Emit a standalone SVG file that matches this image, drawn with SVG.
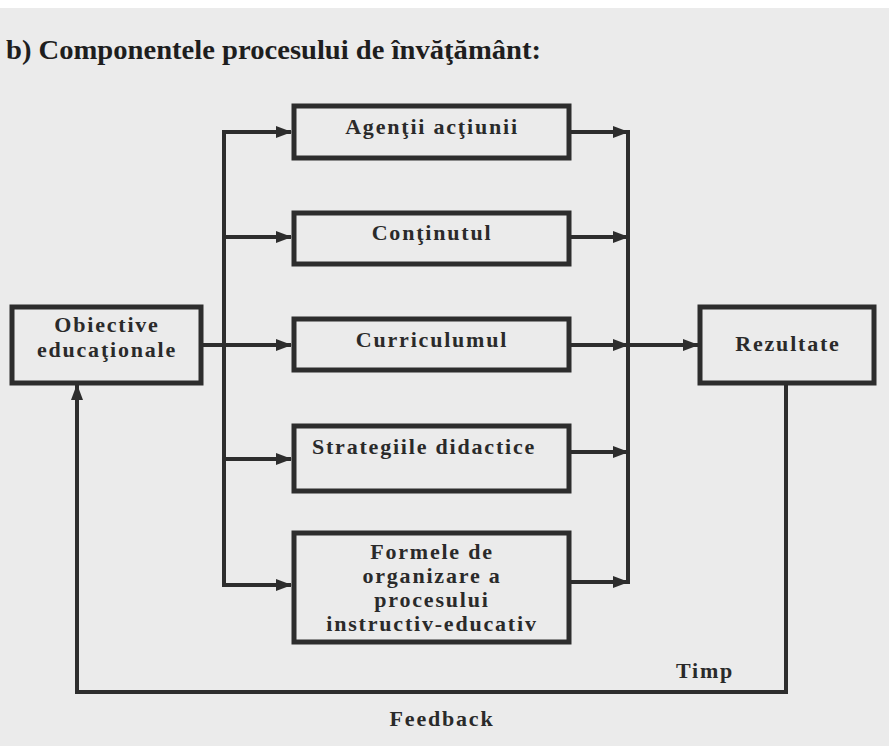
<svg xmlns="http://www.w3.org/2000/svg" width="889" height="746" viewBox="0 0 889 746">
<style>
  .box { fill: none; stroke: #2d2d2d; stroke-width: 5; }
  .lbl { font-family: "Liberation Serif", "Times New Roman", serif; font-weight: bold; font-size: 22px; letter-spacing: 1.8px; fill: #2a2a2a; text-anchor: middle; }
  .title { font-family: "Liberation Serif", "Times New Roman", serif; font-weight: bold; font-size: 27px; fill: #1e1e1e; }
  .ln { fill: none; stroke: #2d2d2d; stroke-width: 4; }
</style>
<defs>
  <marker id="ah" markerUnits="userSpaceOnUse" markerWidth="16" markerHeight="12" refX="15" refY="6" orient="auto">
    <path d="M0,0 L16,6 L0,12 Z" fill="#2d2d2d"/>
  </marker>
</defs>
<rect x="0" y="0" width="889" height="746" fill="#ebebeb"/>
<rect x="0" y="0" width="889" height="8" fill="#ffffff"/>
<text class="title" x="6" y="59" textLength="535" lengthAdjust="spacingAndGlyphs">b) Componentele procesului de învăţământ:</text>

<g id="connectors">
  <line class="ln" x1="224" y1="130" x2="224" y2="587"/>
  <line class="ln" x1="628" y1="130" x2="628" y2="584"/>
  <line class="ln" x1="202" y1="345" x2="291" y2="345" marker-end="url(#ah)"/>
  <line class="ln" x1="222" y1="132" x2="291" y2="132" marker-end="url(#ah)"/>
  <line class="ln" x1="222" y1="237" x2="291" y2="237" marker-end="url(#ah)"/>
  <line class="ln" x1="222" y1="459" x2="291" y2="459" marker-end="url(#ah)"/>
  <line class="ln" x1="222" y1="585" x2="291" y2="585" marker-end="url(#ah)"/>
  <line class="ln" x1="571" y1="132" x2="628" y2="132" marker-end="url(#ah)"/>
  <line class="ln" x1="571" y1="237" x2="628" y2="237" marker-end="url(#ah)"/>
  <line class="ln" x1="571" y1="345" x2="628" y2="345" marker-end="url(#ah)"/>
  <line class="ln" x1="571" y1="452" x2="628" y2="452" marker-end="url(#ah)"/>
  <line class="ln" x1="571" y1="582" x2="628" y2="582" marker-end="url(#ah)"/>
  <line class="ln" x1="628" y1="345" x2="698" y2="345" marker-end="url(#ah)"/>
  <path class="ln" d="M786,385 L786,692 L77,692 L77,385" marker-end="url(#ah)"/>
  <text class="lbl" x="705" y="678">Timp</text>
  <text class="lbl" x="442" y="726">Feedback</text>
</g>

<g id="obiective">
  <rect class="box" x="12" y="307" width="189" height="76"/>
  <text class="lbl" x="107" y="332">Obiective</text>
  <text class="lbl" x="107" y="357">educaţionale</text>
</g>
<g id="agentii">
  <rect class="box" x="294" y="106" width="275" height="52"/>
  <text class="lbl" x="432" y="134">Agenţii acţiunii</text>
</g>
<g id="continutul">
  <rect class="box" x="294" y="213" width="275" height="51"/>
  <text class="lbl" x="432" y="240">Conţinutul</text>
</g>
<g id="curriculumul">
  <rect class="box" x="294" y="319" width="275" height="51"/>
  <text class="lbl" x="432" y="347">Curriculumul</text>
</g>
<g id="strategiile">
  <rect class="box" x="294" y="426" width="275" height="65"/>
  <text class="lbl" x="424" y="454">Strategiile didactice</text>
</g>
<g id="formele">
  <rect class="box" x="294" y="533" width="275" height="109"/>
  <text class="lbl" x="432" y="559">Formele de</text>
  <text class="lbl" x="432" y="583">organizare a</text>
  <text class="lbl" x="432" y="607">procesului</text>
  <text class="lbl" x="432" y="631">instructiv-educativ</text>
</g>
<g id="rezultate">
  <rect class="box" x="700" y="307" width="174" height="76"/>
  <text class="lbl" x="788" y="351">Rezultate</text>
</g>
</svg>
